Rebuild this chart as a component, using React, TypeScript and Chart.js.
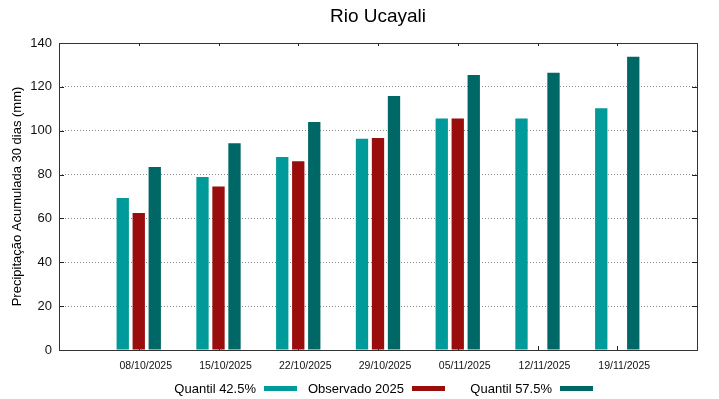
import React, { useEffect, useRef } from "react";
import { Chart, registerables } from "chart.js";

Chart.register(...registerables);

const title = "Rio Ucayali";
const yTitle = "Precipitação Acumulada 30 dias (mm)";
const categories = ["08/10/2025", "15/10/2025", "22/10/2025", "29/10/2025", "05/11/2025", "12/11/2025", "19/11/2025"];
const quantil425 = [69.3, 78.9, 88.0, 96.3, 105.6, 105.6, 110.3];
const observado2025: (number | null)[] = [62.5, 74.6, 86.1, 96.7, 105.6, null, null];
const quantil575 = [83.5, 94.3, 104.0, 115.8, 125.4, 126.4, 133.7];
const seriesNames = ["Quantil 42.5%", "Observado 2025", "Quantil 57.5%"];
const seriesColors = ["#009a9a", "#990d0d", "#006767"];
const yTicks = [0, 20, 40, 60, 80, 100, 120, 140];

const FONT = "'Liberation Sans', Arial, sans-serif";

const framePlugin = {
  id: "frame",
  beforeDatasetsDraw(chart: any) {
    const { ctx, chartArea: a, scales } = chart;
    ctx.save();
    ctx.strokeStyle = "#222";
    ctx.lineWidth = 1;
    ctx.beginPath();
    for (const v of yTicks) {
      const y = Math.round(scales.y.getPixelForValue(v)) + 0.5;
      ctx.moveTo(a.left, y);
      ctx.lineTo(a.left + 5, y);
      ctx.moveTo(a.right, y);
      ctx.lineTo(a.right - 5, y);
    }
    categories.forEach((_, i) => {
      const x = Math.round(scales.x.getPixelForValue(i)) + 0.5;
      ctx.moveTo(x, a.bottom);
      ctx.lineTo(x, a.bottom - 4);
      ctx.moveTo(x, a.top);
      ctx.lineTo(x, a.top + 3);
    });
    ctx.stroke();
    ctx.restore();
  },
  afterDraw(chart: any) {
    const { ctx, chartArea: a } = chart;
    ctx.save();
    ctx.strokeStyle = "#333";
    ctx.lineWidth = 1;
    ctx.strokeRect(Math.round(a.left) + 0.5, Math.round(a.top) + 0.5, Math.round(a.right - a.left), Math.round(a.bottom - a.top));
    // title
    ctx.fillStyle = "#000";
    ctx.font = `19px ${FONT}`;
    ctx.textAlign = "center";
    ctx.textBaseline = "alphabetic";
    ctx.fillText(title, (a.left + a.right) / 2, 22);
    // y title
    ctx.save();
    ctx.translate(17, (a.top + a.bottom) / 2);
    ctx.rotate(-Math.PI / 2);
    ctx.font = `13px ${FONT}`;
    ctx.textBaseline = "middle";
    ctx.textAlign = "center";
    ctx.fillText(yTitle, 0, 0);
    ctx.restore();
    // legend
    ctx.font = `13px ${FONT}`;
    ctx.textAlign = "right";
    ctx.textBaseline = "alphabetic";
    const swatchEnds = [297, 445, 593];
    seriesNames.forEach((name, i) => {
      const end = swatchEnds[i];
      ctx.fillStyle = "#000";
      ctx.fillText(name, end - 41, 392.5);
      ctx.fillStyle = seriesColors[i];
      ctx.fillRect(end - 33, 386, 33, 5);
    });
    ctx.restore();
  },
};

export default function App() {
  const ref = useRef<HTMLCanvasElement>(null);
  useEffect(() => {
    document.body.style.margin = "0";
    const toPts = (arr: (number | null)[]) => arr.map((v, i) => ({ x: i, y: v }));
    const chart = new Chart(ref.current!, {
      type: "bar",
      data: {
        datasets: [quantil425, observado2025, quantil575].map((arr, i) => ({
          label: seriesNames[i],
          data: toPts(arr) as any,
          backgroundColor: seriesColors[i],
          borderWidth: 0,
          categoryPercentage: 0.602,
          barPercentage: 0.77,
        })),
      },
      options: {
        responsive: false,
        animation: false,
        devicePixelRatio: 1,
        layout: { padding: { top: 43, right: 22, left: 0, bottom: 0 } },
        plugins: { legend: { display: false }, title: { display: false }, tooltip: { enabled: false } },
        scales: {
          x: {
            type: "linear",
            min: -1,
            max: 7,
            offset: false,
            afterBuildTicks: (s: any) => {
              s.ticks = categories.map((_, i) => ({ value: i }));
            },
            afterFit: (s: any) => {
              s.height = 49;
            },
            grid: { display: false, drawTicks: false, offset: false },
            border: { display: false },
            ticks: {
              autoSkip: false,
              maxRotation: 0,
              padding: 10,
              labelOffset: 7,
              color: "#111",
              font: { family: FONT, size: 10.5 },
              callback: (v: any) => categories[v] ?? "",
            },
          },
          y: {
            min: 0,
            max: 140,
            afterFit: (s: any) => {
              s.width = 59;
            },
            grid: {
              drawTicks: false,
              color: (c: any) => (c.tick && (c.tick.value === 0 || c.tick.value === 140) ? "rgba(0,0,0,0)" : "#8a8a8a"),
              lineWidth: 1,
            },
            border: { display: false, dash: [1, 2] },
            ticks: {
              stepSize: 20,
              padding: 7,
              color: "#111",
              font: { family: FONT, size: 13 },
            },
          },
        },
      },
      plugins: [framePlugin],
    } as any);
    return () => chart.destroy();
  }, []);
  return <canvas ref={ref} width={719} height={399} />;
}
